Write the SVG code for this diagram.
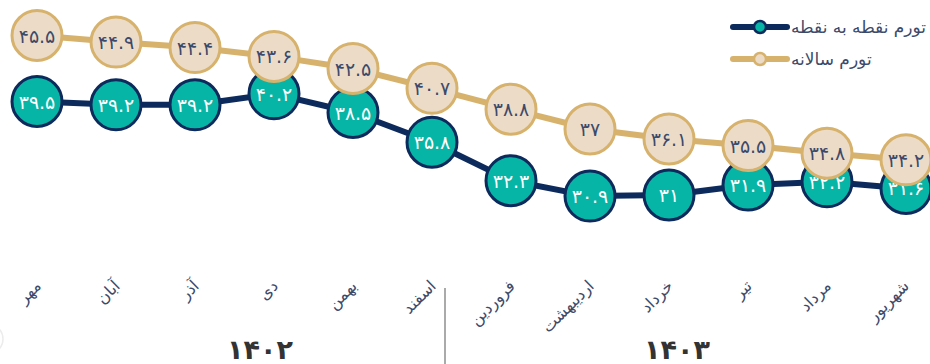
<svg xmlns="http://www.w3.org/2000/svg" width="930" height="364" viewBox="0 0 930 364">
<style>
text{font-family:"DejaVu Sans","Noto Sans",sans-serif;}
.tl{fill:none;stroke:#0d2a5c;stroke-width:6;stroke-linejoin:round;stroke-linecap:round}
.bl{fill:none;stroke:#d7b26d;stroke-width:6;stroke-linejoin:round;stroke-linecap:round}
.tc{fill:#06b5a5;stroke:#0d2a5c;stroke-width:3}
.bc{fill:#ecdcc7;stroke:#d7b26d;stroke-width:3}
.tv{fill:#ffffff;font-size:19px;text-anchor:middle;dominant-baseline:central}
.bv{fill:#3c4a6a;font-size:19px;text-anchor:middle;dominant-baseline:central}
.ax{fill:#3c4a6a;font-size:16px;text-anchor:end}
.yr{fill:#333333;font-size:27px;font-weight:bold;text-anchor:middle}
.lg{fill:#3c4a6a;font-size:17px}
</style>
<circle cx="-12" cy="339" r="15" fill="none" stroke="#ececec" stroke-width="1.5"/>
<g id="connectors">
<polyline class="tl" points="37,101.5 116,104.8 195,104.8 274,93.8 353,112.5 432,142.2 511,180.7 590,196.1 669,195 748,185.1 827,181.8 906,188.4"/>
</g>
<g id="series-teal">
<g id="t1"><circle class="tc" cx="37" cy="101.5" r="25"/><text class="tv" x="37" y="101.5">۳۹.۵</text></g>
<g id="t2"><circle class="tc" cx="116" cy="104.8" r="25"/><text class="tv" x="116" y="104.8">۳۹.۲</text></g>
<g id="t3"><circle class="tc" cx="195" cy="104.8" r="25"/><text class="tv" x="195" y="104.8">۳۹.۲</text></g>
<g id="t4"><circle class="tc" cx="274" cy="93.8" r="25"/><text class="tv" x="274" y="93.8">۴۰.۲</text></g>
<g id="t5"><circle class="tc" cx="353" cy="112.5" r="25"/><text class="tv" x="353" y="112.5">۳۸.۵</text></g>
<g id="t6"><circle class="tc" cx="432" cy="142.2" r="25"/><text class="tv" x="432" y="142.2">۳۵.۸</text></g>
<g id="t7"><circle class="tc" cx="511" cy="180.7" r="25"/><text class="tv" x="511" y="180.7">۳۲.۳</text></g>
<g id="t8"><circle class="tc" cx="590" cy="196.1" r="25"/><text class="tv" x="590" y="196.1">۳۰.۹</text></g>
<g id="t9"><circle class="tc" cx="669" cy="195" r="25"/><text class="tv" x="669" y="195">۳۱</text></g>
<g id="t10"><circle class="tc" cx="748" cy="185.1" r="25"/><text class="tv" x="748" y="185.1">۳۱.۹</text></g>
<g id="t11"><circle class="tc" cx="827" cy="181.8" r="25"/><text class="tv" x="827" y="181.8">۳۲.۲</text></g>
<g id="t12"><circle class="tc" cx="906" cy="188.4" r="25"/><text class="tv" x="906" y="188.4">۳۱.۶</text></g>
</g>
<g id="connectors-beige">
<polyline class="bl" points="37,35.5 116,42.1 195,47.6 274,56.4 353,68.5 432,88.3 511,109.2 590,129 669,138.9 748,145.5 827,153.2 906,159.8"/>
</g>
<g id="series-beige">
<g id="b1"><circle class="bc" cx="37" cy="35.5" r="25"/><text class="bv" x="37" y="35.5">۴۵.۵</text></g>
<g id="b2"><circle class="bc" cx="116" cy="42.1" r="25"/><text class="bv" x="116" y="42.1">۴۴.۹</text></g>
<g id="b3"><circle class="bc" cx="195" cy="47.6" r="25"/><text class="bv" x="195" y="47.6">۴۴.۴</text></g>
<g id="b4"><circle class="bc" cx="274" cy="56.4" r="25"/><text class="bv" x="274" y="56.4">۴۳.۶</text></g>
<g id="b5"><circle class="bc" cx="353" cy="68.5" r="25"/><text class="bv" x="353" y="68.5">۴۲.۵</text></g>
<g id="b6"><circle class="bc" cx="432" cy="88.3" r="25"/><text class="bv" x="432" y="88.3">۴۰.۷</text></g>
<g id="b7"><circle class="bc" cx="511" cy="109.2" r="25"/><text class="bv" x="511" y="109.2">۳۸.۸</text></g>
<g id="b8"><circle class="bc" cx="590" cy="129" r="25"/><text class="bv" x="590" y="129">۳۷</text></g>
<g id="b9"><circle class="bc" cx="669" cy="138.9" r="25"/><text class="bv" x="669" y="138.9">۳۶.۱</text></g>
<g id="b10"><circle class="bc" cx="748" cy="145.5" r="25"/><text class="bv" x="748" y="145.5">۳۵.۵</text></g>
<g id="b11"><circle class="bc" cx="827" cy="153.2" r="25"/><text class="bv" x="827" y="153.2">۳۴.۸</text></g>
<g id="b12"><circle class="bc" cx="906" cy="159.8" r="25"/><text class="bv" x="906" y="159.8">۳۴.۲</text></g>
</g>
<g id="axis">
<text class="ax" transform="translate(42,287) rotate(-45)">مهر</text>
<text class="ax" transform="translate(121,287) rotate(-45)">آبان</text>
<text class="ax" transform="translate(200,287) rotate(-45)">آذر</text>
<text class="ax" transform="translate(279,287) rotate(-45)">دی</text>
<text class="ax" transform="translate(358,287) rotate(-45)">بهمن</text>
<text class="ax" transform="translate(437,287) rotate(-45)">اسفند</text>
<text class="ax" transform="translate(516,287) rotate(-45)">فروردین</text>
<text class="ax" transform="translate(595,287) rotate(-45)">اردیبهشت</text>
<text class="ax" transform="translate(674,287) rotate(-45)">خرداد</text>
<text class="ax" transform="translate(753,287) rotate(-45)">تیر</text>
<text class="ax" transform="translate(832,287) rotate(-45)">مرداد</text>
<text class="ax" transform="translate(910,287) rotate(-45)">شهریور</text>
<line x1="445" y1="288" x2="445" y2="364" stroke="#aaaaaa" stroke-width="2"/>
<text class="yr" x="260" y="359">۱۴۰۲</text>
<text class="yr" x="677" y="359">۱۴۰۳</text>
</g>
<g id="legend">
<g id="lg1">
<line x1="733" y1="27" x2="787" y2="27" stroke="#0d2a5c" stroke-width="6" stroke-linecap="round"/>
<circle cx="760" cy="27" r="6" fill="#06b5a5" stroke="#0d2a5c" stroke-width="2.5"/>
<text class="lg" x="791" y="33">تورم نقطه به نقطه</text>
</g>
<g id="lg2">
<line x1="733" y1="59" x2="787" y2="59" stroke="#d7b26d" stroke-width="6" stroke-linecap="round"/>
<circle cx="760" cy="59" r="6" fill="#ecdcc7" stroke="#d7b26d" stroke-width="2.5"/>
<text class="lg" x="791" y="65">تورم سالانه</text>
</g>
</g>
</svg>
